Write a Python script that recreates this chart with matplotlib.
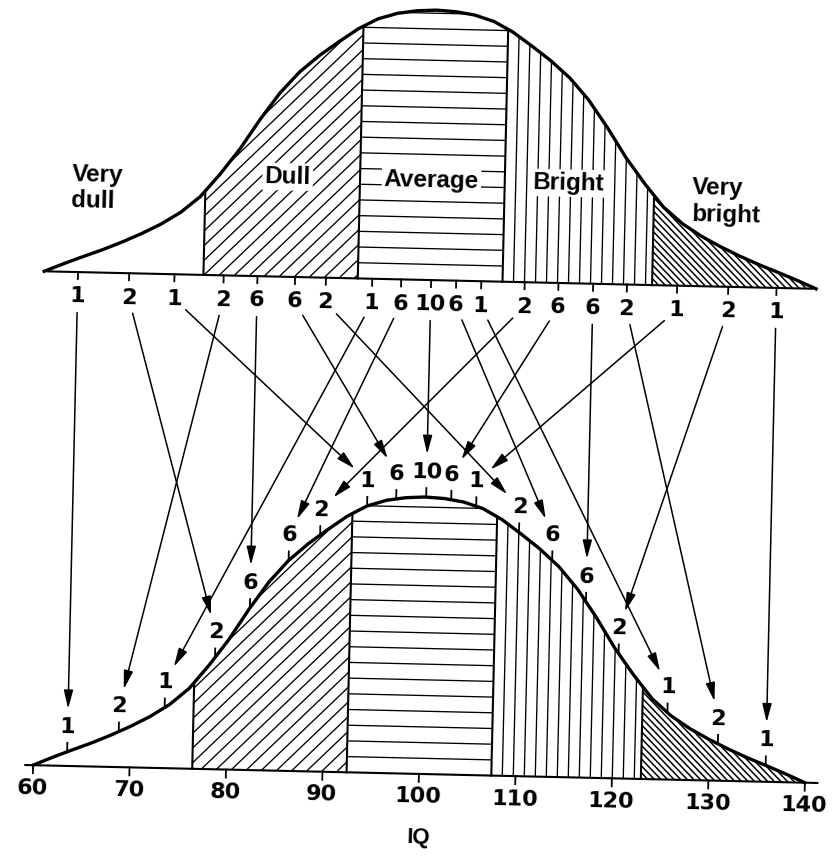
import numpy as np
import matplotlib
matplotlib.use("Agg")
import matplotlib.pyplot as plt
from matplotlib.patches import Polygon, FancyArrowPatch, ArrowStyle
from matplotlib.collections import LineCollection
from matplotlib.transforms import Affine2D

plt.rcParams['font.family'] = ['Liberation Sans', 'DejaVu Sans']

# ---------------- data ----------------
# relative height of the (hand drawn) IQ curve, same shape for both curves
curve_iq = list(range(60, 141, 2))
curve_rel = [0.000, 0.030, 0.058, 0.085, 0.115, 0.148, 0.185, 0.230, 0.290, 0.375,
             0.470, 0.580, 0.680, 0.760, 0.822, 0.875, 0.925, 0.963, 0.985, 0.996,
             1.000,
             0.996, 0.985, 0.963, 0.925, 0.875, 0.822, 0.760, 0.680, 0.580, 0.470,
             0.375, 0.290, 0.230, 0.185, 0.148, 0.115, 0.085, 0.058, 0.030, 0.000]

groups = ["Very\ndull", "Dull", "Average", "Bright", "Very\nbright"]
cutoffs = [76.5, 92.5, 107.5, 123.0]

# marked IQ positions and the number of people at each
mark_iq = [63.5, 68.8, 73.5, 78.6, 82.1, 86.0, 89.2, 94.0, 97.0, 100.1,
           102.7, 105.3, 109.8, 113.3, 116.9, 120.4, 125.6, 130.9, 135.9]
counts = [1, 2, 1, 2, 6, 6, 2, 1, 6, 10, 6, 1, 2, 6, 6, 2, 1, 2, 1]
# index of the lower mark that each upper mark points to
dest = [0, 3, 7, 1, 4, 8, 12, 2, 5, 9, 13, 16, 6, 10, 14, 17, 11, 15, 18]

axis_ticks = [60, 70, 80, 90, 100, 110, 120, 130, 140]

# ---------------- layout ----------------
PX = 9.65            # pixels per IQ point
XMIN = 55.99
TOP_BASE, TOP_H = 280, 270
BOT_BASE, BOT_H = 774, 277
TOP_LAB_Y = 304.5
TILT = -1.3          # the scan is slightly rotated
NUM_FONT = dict(family='DejaVu Sans', fontsize=16, fontweight='bold')

hatch_kind = [None, '/', '-', '|', '\\']
hatch_gap = [0, 15, 15.7, 11, 6.7]
hatch_lw = [0, 0.95, 0.95, 0.95, 1.1]

fig = plt.figure(figsize=(8.33, 8.57), dpi=100)
ax = fig.add_axes([0, 0, 1, 1])
ax.set_xlim(XMIN, XMIN + 833 / PX)
ax.set_ylim(857, 0)
ax.axis('off')

cx, cy = ax.transData.transform((100, 520))
rot = ax.transData + Affine2D().rotate_deg_around(cx, cy, TILT)


def curve_y(iq, base, height):
    return base - height * np.interp(iq, curve_iq, curve_rel)


def hatch_segments(a, b, vtop, base, kind, gap):
    u0, u1 = a * PX, b * PX
    segs = []
    if kind == '-':
        for v in np.arange(base - gap, vtop, -gap):
            segs.append([(a, v), (b, v)])
    elif kind == '|':
        for u in np.arange(u0 + gap, u1, gap):
            segs.append([(u / PX, base), (u / PX, vtop)])
    elif kind == '/':
        for c in np.arange(u0 + vtop, u1 + base + gap, gap):
            segs.append([((c - base) / PX, base), ((c - vtop) / PX, vtop)])
    elif kind == '\\':
        for c in np.arange(u0 - base, u1 - vtop + gap, gap):
            segs.append([((c + base) / PX, base), ((c + vtop) / PX, vtop)])
    return segs


def draw_curve(base, height, x_from, x_to):
    edges = [curve_iq[0]] + cutoffs + [curve_iq[-1]]
    for k in range(len(groups)):
        a, b = edges[k], edges[k + 1]
        xs = [a] + [x for x in curve_iq if a < x < b] + [b]
        ys = curve_y(np.array(xs, float), base, height)
        verts = [(a, base)] + list(zip(xs, ys)) + [(b, base)]
        patch = Polygon(verts, closed=True, fc='white', ec='none', transform=rot, zorder=1)
        ax.add_patch(patch)
        if hatch_kind[k]:
            lc = LineCollection(hatch_segments(a, b, ys.min() - 2, base, hatch_kind[k], hatch_gap[k]),
                                colors='k', linewidths=hatch_lw[k], transform=rot, zorder=2)
            lc.set_clip_path(patch)
            ax.add_collection(lc)
    for c in cutoffs:
        ax.plot([c, c], [base, curve_y(c, base, height)], color='k', lw=1.5,
                transform=rot, zorder=3)
    ax.plot(curve_iq, curve_y(np.array(curve_iq, float), base, height), color='k',
            lw=2.4, transform=rot, zorder=4, solid_joinstyle='round')
    ax.plot([x_from, x_to], [base, base], color='k', lw=1.5, transform=rot, zorder=4)


# upper curve
draw_curve(TOP_BASE, TOP_H, 60.4, 139.6)
label_pos = [(62.6, 196, 'left'), (85.0, 180, 'center'), (99.9, 181, 'center'),
             (114.1, 180, 'center'), (126.9, 196, 'left')]
for name, (x, y, ha) in zip(groups, label_pos):
    box = None if '\n' in name else dict(fc='white', ec='none', pad=1.5)
    ax.text(x, y, name, ha=ha, va='center', fontsize=17.5, fontweight='bold',
            linespacing=1.2, transform=rot, transform_rotates_text=True,
            bbox=box, zorder=6)

for x, n in zip(mark_iq, counts):
    ax.plot([x, x], [TOP_BASE, TOP_BASE + 7], color='k', lw=1.3, transform=rot, zorder=4)
    ax.text(x, TOP_LAB_Y, str(n), ha='center', va='center', transform=rot,
            transform_rotates_text=True, zorder=6, **NUM_FONT)

# lower curve
draw_curve(BOT_BASE, BOT_H, 59.2, 141.3)
for x, n in zip(mark_iq, counts):
    yc = curve_y(x, BOT_BASE, BOT_H)
    ax.plot([x, x], [yc, yc - 9], color='k', lw=1.3, transform=rot, zorder=4)
    ax.text(x, yc - 25, str(n), ha='center', va='center', transform=rot,
            transform_rotates_text=True, zorder=6, **NUM_FONT)

for t in axis_ticks:
    ax.plot([t, t], [BOT_BASE, BOT_BASE + 8], color='k', lw=1.3, transform=rot, zorder=4)
    ax.text(t, 797, str(t), ha='center', va='center', transform=rot,
            transform_rotates_text=True, zorder=6, **NUM_FONT)
ax.text(100.1, 838, "IQ", ha='center', va='center', fontsize=16, fontweight='bold',
        transform=rot, transform_rotates_text=True, zorder=6)

# arrows from the upper marks to the lower marks
style = ArrowStyle("-|>", head_length=1.4, head_width=0.35)
for i, j in enumerate(dest):
    tx, ty = mark_iq[i], TOP_LAB_Y
    bx = mark_iq[j]
    by = curve_y(bx, BOT_BASE, BOT_H) - 25
    du, dv = (bx - tx) * PX, by - ty
    L = np.hypot(du, dv)
    p0 = (tx + du / L * 16 / PX, ty + dv / L * 16)
    p1 = (bx - du / L * 18 / PX, by - dv / L * 18)
    ax.add_patch(FancyArrowPatch(p0, p1, arrowstyle=style, mutation_scale=8, lw=1.1,
                                 color='k', shrinkA=0, shrinkB=0, transform=rot, zorder=5))

fig.savefig("out.png", dpi=100, facecolor='white')
